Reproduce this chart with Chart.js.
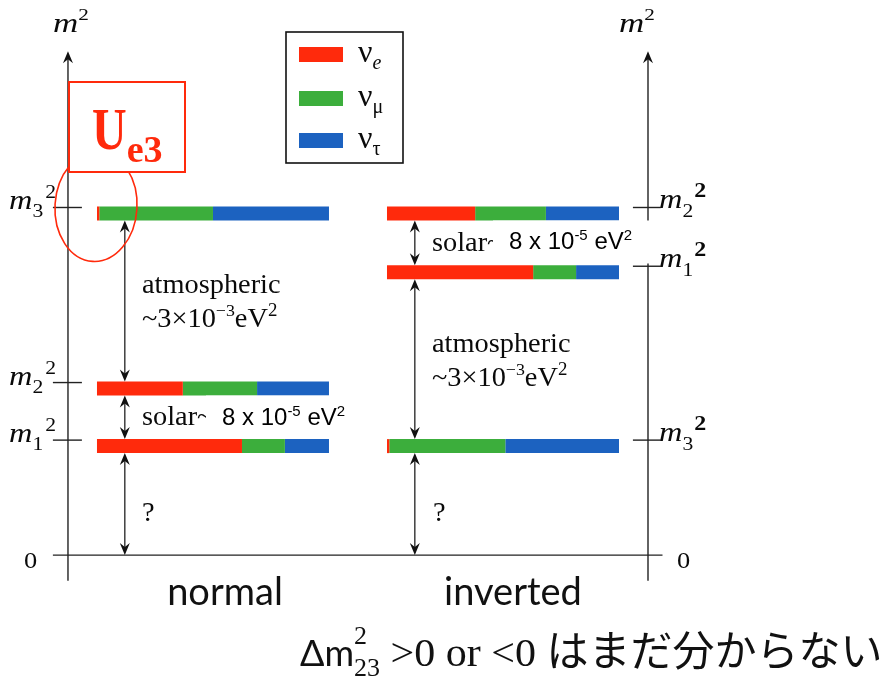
<!DOCTYPE html>
<html>
<head>
<meta charset="utf-8">
<script src="https://cdn.jsdelivr.net/npm/chart.js@4.4.1/dist/chart.umd.min.js"></script>
<style>
  html, body { margin: 0; padding: 0; background: #ffffff; }
  #wrap { width: 893px; height: 676px; }
</style>
</head>
<body>
<div id="wrap"><canvas id="c" width="893" height="676"></canvas></div>
<script>
// Flavour content of each mass state, and the m^2 level of each state
const flavourNames  = ['νe', 'νμ', 'ντ'];
const flavourSubs   = ['e', 'μ', 'τ'];
const flavourColors = ['#ff2a0c', '#3cae3c', '#1c62c0'];
const orderings     = ['normal', 'inverted'];
const columnStart   = [0, 1.25];          // x where each ordering's bars begin (bar length = 1)
const stateSubs     = ['1', '2', '3'];    // m1, m2, m3

// m^2 levels (arbitrary units, not to scale)
const normalLevels   = [3.19, 4.875, 10.0];
const invertedLevels = [8.28, 10.0, 3.19];

// |U_alpha i|^2 fractions [nu_e, nu_mu, nu_tau] for m1, m2, m3
const normalMix   = [[0.625, 0.185, 0.19], [0.37, 0.32, 0.31], [0.01, 0.49, 0.50]];
const invertedMix = [[0.63, 0.185, 0.185], [0.38, 0.305, 0.315], [0.01, 0.50, 0.49]];

const solarText = '8 x 10';
const atmText   = '~3×10';

const BAR = 14;   // bar thickness in px
const SERIF = '"Liberation Serif", "Times New Roman", serif';
const SANS  = '"Liberation Sans", Arial, sans-serif';
const HUMAN = 'Lato, "Open Sans", sans-serif';
const INK = '#0a0a0a';

function buildDatasets() {
  const out = [];
  [[normalLevels, normalMix], [invertedLevels, invertedMix]].forEach(([levels, mix], c) => {
    levels.forEach((lv, s) => {
      let acc = columnStart[c];
      mix[s].forEach((frac, f) => {
        out.push({
          label: orderings[c] + ' m' + stateSubs[s] + ' ' + flavourNames[f],
          data: [{ x: acc, y: lv }, { x: acc + frac, y: lv }],
          showLine: true,
          borderColor: flavourColors[f],
          backgroundColor: flavourColors[f],
          borderWidth: BAR,
          borderCapStyle: 'butt',
          pointRadius: 0,
          pointHoverRadius: 0,
          tension: 0
        });
        acc += frac;
      });
    });
  });
  return out;
}

// draw a run of text pieces (with raised / lowered parts), horizontally scaled by sx
function runs(ctx, x, y, parts, sx) {
  sx = sx || 1;
  parts.forEach(p => {
    ctx.font = p.f;
    ctx.fillStyle = p.c || INK;
    ctx.save();
    ctx.translate(x, y + (p.dy || 0));
    ctx.scale(p.sx || sx, 1);
    ctx.textAlign = 'left';
    ctx.textBaseline = 'alphabetic';
    ctx.fillText(p.t, 0, 0);
    ctx.restore();
    if (!p.stay) x += ctx.measureText(p.t).width * (p.sx || sx) + (p.gap || 0);
  });
  return x;
}

function arrowHead(ctx, x, y, dir) {
  // dir = -1 : pointing up, +1 : pointing down
  ctx.beginPath();
  ctx.moveTo(x, y);
  ctx.lineTo(x - 5, y - dir * 12);
  ctx.lineTo(x, y - dir * 8);
  ctx.lineTo(x + 5, y - dir * 12);
  ctx.closePath();
  ctx.fill();
}

function doubleArrow(ctx, x, y1, y2) {
  ctx.beginPath();
  ctx.moveTo(x, y1 + 4);
  ctx.lineTo(x, y2 - 4);
  ctx.stroke();
  arrowHead(ctx, x, y1, -1);
  arrowHead(ctx, x, y2, 1);
}

const diagram = {
  id: 'diagram',
  beforeDatasetsDraw(chart) {
    const ctx = chart.ctx, xs = chart.scales.x, ys = chart.scales.y;
    const X = v => xs.getPixelForValue(v), Y = v => ys.getPixelForValue(v);
    ctx.save();
    ctx.strokeStyle = '#222';
    ctx.fillStyle = '#111';
    ctx.lineWidth = 1.4;

    // vertical m^2 axes
    [-0.125, 2.375].forEach(ax => {
      ctx.beginPath();
      ctx.moveTo(X(ax), Y(-0.75));
      ctx.lineTo(X(ax), Y(14.55));
      ctx.stroke();
      arrowHead(ctx, X(ax), Y(14.75), -1);
    });
    // zero line
    ctx.beginPath();
    ctx.moveTo(X(-0.19), Y(0));
    ctx.lineTo(X(2.4375), Y(0));
    ctx.stroke();

    // level ticks (at the upper edge of each bar)
    normalLevels.forEach(lv => {
      const y = Y(lv) - BAR / 2 + 1;
      ctx.beginPath(); ctx.moveTo(X(-0.19), y); ctx.lineTo(X(-0.065), y); ctx.stroke();
    });
    invertedLevels.forEach(lv => {
      const y = Y(lv) - BAR / 2 + 1;
      ctx.beginPath(); ctx.moveTo(X(2.31), y); ctx.lineTo(X(2.43), y); ctx.stroke();
    });
    ctx.restore();
  },
  afterDatasetsDraw(chart) {
    const ctx = chart.ctx, xs = chart.scales.x, ys = chart.scales.y;
    const X = v => xs.getPixelForValue(v), Y = v => ys.getPixelForValue(v);
    ctx.save();
    ctx.strokeStyle = '#222';
    ctx.fillStyle = '#111';
    ctx.lineWidth = 1.3;

    // gap arrows between consecutive levels and down to zero
    [[normalLevels, 0.12], [invertedLevels, 1.37]].forEach(([levels, ax]) => {
      const sorted = levels.slice().sort((a, b) => b - a);
      const x = X(ax);
      for (let i = 0; i < sorted.length; i++) {
        const top = Y(sorted[i]) + BAR / 2;
        const bot = i + 1 < sorted.length ? Y(sorted[i + 1]) - BAR / 2 : Y(0);
        doubleArrow(ctx, x, top, bot);
      }
    });

    const serif = (s, st) => (st || '') + ' ' + s + 'px ' + SERIF;
    const SX = 1.05;

    // gap annotations
    const atm = (x, y) => {
      runs(ctx, x, y, [{ t: 'atmospheric', f: serif(27) }], SX);
      runs(ctx, x, y + 34, [
        { t: atmText, f: serif(27) },
        { t: '−3', f: serif(17), dy: -11 },
        { t: 'eV', f: serif(27) },
        { t: '2', f: serif(18), dy: -11 }
      ], SX);
    };
    atm(142, 293);
    atm(432, 352);
    runs(ctx, 142, 425, [{ t: 'solar~', f: serif(27) }], SX);
    runs(ctx, 432, 251, [{ t: 'solar~', f: serif(27) }], SX);
    runs(ctx, 142, 521, [{ t: '?', f: serif(27) }], SX);
    runs(ctx, 433, 521, [{ t: '?', f: serif(27) }], SX);

    // solar splitting boxes, hung just under the upper bar of each pair
    const solarBox = (x, y) => {
      ctx.fillStyle = '#ffffff';
      ctx.fillRect(x, y, 156, 43);
      runs(ctx, x + 16, y + 29, [
        { t: solarText, f: '24px ' + SANS, c: '#000' },
        { t: '-5', f: '15px ' + SANS, dy: -9, c: '#000' },
        { t: ' eV', f: '24px ' + SANS, c: '#000' },
        { t: '2', f: '15px ' + SANS, dy: -9, c: '#000' }
      ], 1);
    };
    solarBox(206, Y(normalLevels[1]) + BAR / 2);
    solarBox(493, Y(invertedLevels[1]) + BAR / 2);

    // axis labels m^2 and 0
    runs(ctx, 53, 32, [{ t: 'm', f: serif(28, 'italic') }, { t: '2', f: serif(17), dy: -12, gap: 0 }], 1.25);
    runs(ctx, 619, 32, [{ t: 'm', f: serif(28, 'italic') }, { t: '2', f: serif(17), dy: -12 }], 1.25);
    runs(ctx, 24, 568, [{ t: '0', f: serif(24) }], 1.1);
    runs(ctx, 677, 568, [{ t: '0', f: serif(24) }], 1.1);

    // level names
    normalLevels.forEach((lv, s) => {
      const y = Y(lv) - BAR / 2 + 1;
      runs(ctx, 9, y + 2, [
        { t: 'm', f: serif(27, 'italic') },
        { t: stateSubs[s], f: serif(18), dy: 8, gap: 2 },
        { t: '2', f: serif(18), dy: -11 }
      ], 1.2);
    });
    invertedLevels.forEach((lv, s) => {
      const y = Y(lv) - BAR / 2 + 1;
      runs(ctx, 659, y + 1, [
        { t: 'm', f: serif(27, 'italic') },
        { t: stateSubs[s], f: serif(18), dy: 9, gap: 1 },
        { t: '2', f: serif(20, 'bold'), dy: -11 }
      ], 1.2);
    });

    // flavour key
    ctx.fillStyle = '#ffffff';
    ctx.fillRect(286, 32, 117, 131);
    ctx.lineWidth = 1.6;
    ctx.strokeStyle = '#111';
    ctx.strokeRect(286, 32, 117, 131);
    const keyY = [47, 91, 133];
    flavourColors.forEach((col, f) => {
      ctx.fillStyle = col;
      ctx.fillRect(299, keyY[f], 44, 15);
      runs(ctx, 358, keyY[f] + 15, [
        { t: 'ν', f: serif(32) },
        { t: flavourSubs[f], f: serif(20, f === 0 ? 'italic' : ''), dy: 7 }
      ], 1);
    });

    // U_e3 marker: ellipse round the m3 level, then the label box
    ctx.strokeStyle = '#ff2a0c';
    ctx.lineWidth = 1.6;
    ctx.beginPath();
    ctx.ellipse(96, Y(normalLevels[2]) - 7, 41, 55, 0.06, 0, Math.PI * 2);
    ctx.stroke();
    ctx.fillStyle = '#ffffff';
    ctx.fillRect(69, 82, 116, 90);
    ctx.lineWidth = 2;
    ctx.strokeRect(69, 82, 116, 90);
    runs(ctx, 92, 149, [
      { t: 'U', f: serif(60, 'bold'), c: '#ff2a0c', sx: 0.8 },
      { t: 'e3', f: serif(38, 'bold'), c: '#ff2a0c', dy: 13, sx: 1 }
    ], 1);

    // ordering names
    ctx.fillStyle = '#111';
    ctx.font = '38px ' + HUMAN;
    ctx.textAlign = 'center';
    ctx.fillText(orderings[0], 225, 605);
    ctx.fillText(orderings[1], 513, 605);

    // remark below
    runs(ctx, 300, 666, [
      { t: 'Δm', f: '36px ' + HUMAN, c: '#111' },
      { t: '2', f: serif(26), dy: -22, stay: true, c: '#111' },
      { t: '23', f: serif(26), dy: 10, c: '#111' },
      { t: ' >0 or <0 ', f: serif(40), c: '#111', sx: 1.05 },
      { t: 'はまだ分からない', f: '42px "Noto Sans CJK JP"', c: '#111' }
    ], 1);

    ctx.restore();
  }
};

new Chart(document.getElementById('c'), {
  type: 'scatter',
  data: { datasets: buildDatasets() },
  options: {
    responsive: false,
    animation: false,
    devicePixelRatio: 1,
    layout: { padding: 0 },
    plugins: { legend: { display: false }, tooltip: { enabled: false } },
    events: [],
    scales: {
      x: { type: 'linear', min: -0.418, max: 3.431, display: false },
      y: { type: 'linear', min: -3.54, max: 16.25, display: false }
    }
  },
  plugins: [diagram]
});
</script>
</body>
</html>
